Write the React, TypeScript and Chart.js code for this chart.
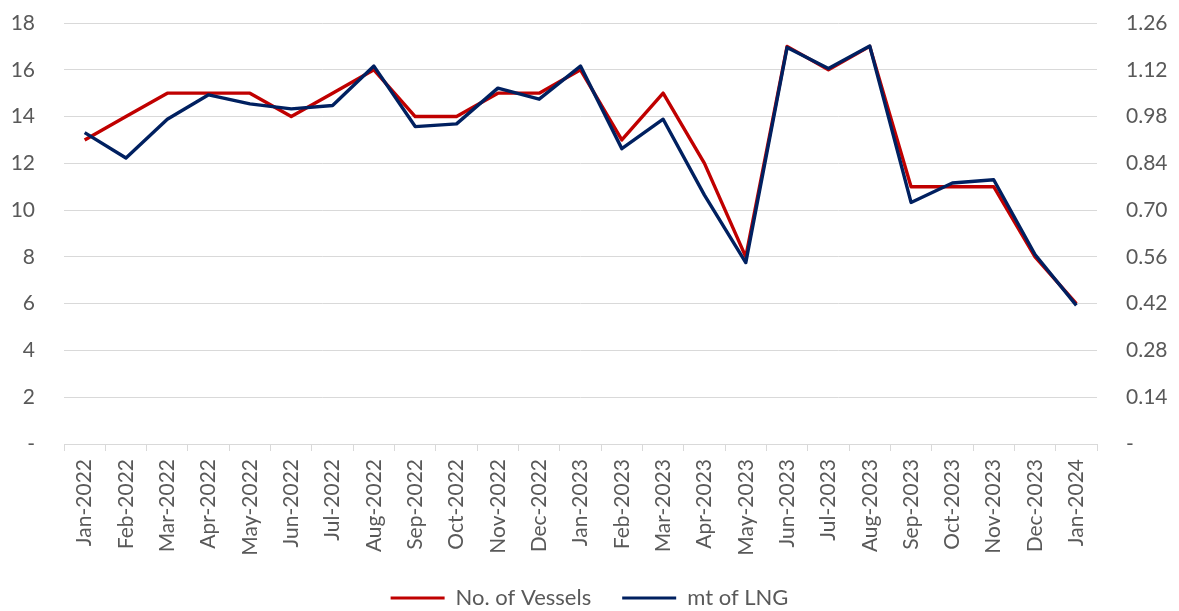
import { useEffect, useRef } from "react";
import { Chart, registerables } from "chart.js";

Chart.register(...registerables);

const CATEGORIES = [
  "Jan-2022", "Feb-2022", "Mar-2022", "Apr-2022", "May-2022", "Jun-2022",
  "Jul-2022", "Aug-2022", "Sep-2022", "Oct-2022", "Nov-2022", "Dec-2022",
  "Jan-2023", "Feb-2023", "Mar-2023", "Apr-2023", "May-2023", "Jun-2023",
  "Jul-2023", "Aug-2023", "Sep-2023", "Oct-2023", "Nov-2023", "Dec-2023",
  "Jan-2024",
];

const VESSELS = [13, 14, 15, 15, 15, 14, 15, 16, 14, 14, 15, 15, 16, 13, 15, 12, 8, 17, 16, 17, 11, 11, 11, 8, 6];

const LNG_MT = [
  0.932, 0.856, 0.972, 1.045, 1.018, 1.003, 1.013, 1.131, 0.95, 0.958, 1.065, 1.032,
  1.131, 0.884, 0.972, 0.745, 0.543, 1.187, 1.124, 1.191, 0.723, 0.781, 0.791, 0.567, 0.415,
];

const LEFT_TICKS = [0, 2, 4, 6, 8, 10, 12, 14, 16, 18];
const RIGHT_TICKS = [0, 0.14, 0.28, 0.42, 0.56, 0.7, 0.84, 0.98, 1.12, 1.26];

const SERIES_NAMES = ["No. of Vessels", "mt of LNG"];

const TEXT_COLOR = "#595959";
const GRID_COLOR = "#D9D9D9";
const RED = "#C00000";
const NAVY = "#002060";
const FONT = { family: "Lato, 'Noto Sans', sans-serif", size: 21 };
const LEGEND_FONT = { family: "Lato, 'Noto Sans', sans-serif", size: 22 };

export default function App() {
  const canvasRef = useRef<HTMLCanvasElement | null>(null);

  useEffect(() => {
    document.body.style.margin = "0";
    const canvas = canvasRef.current;
    if (!canvas) return;
    const chart = new Chart(canvas, {
      type: "line",
      data: {
        labels: CATEGORIES,
        datasets: [
          {
            label: SERIES_NAMES[0],
            data: VESSELS,
            borderColor: RED,
            backgroundColor: RED,
            borderWidth: 3.4,
            pointRadius: 0,
            pointHoverRadius: 0,
            borderJoinStyle: "round",
            tension: 0,
            yAxisID: "y",
            order: 1,
          },
          {
            label: SERIES_NAMES[1],
            data: LNG_MT,
            borderColor: NAVY,
            backgroundColor: NAVY,
            borderWidth: 3.4,
            pointRadius: 0,
            pointHoverRadius: 0,
            borderJoinStyle: "round",
            tension: 0,
            yAxisID: "y1",
            order: 0,
          },
        ],
      },
      options: {
        animation: false,
        responsive: true,
        maintainAspectRatio: false,
        layout: { padding: { top: 23, left: 0, right: 0, bottom: -8 } },
        plugins: {
          tooltip: { enabled: false },
          legend: {
            position: "bottom",
            labels: {
              color: TEXT_COLOR,
              font: LEGEND_FONT,
              boxWidth: 54,
              boxHeight: 3,
              padding: 31,
              sort: (a: any, b: any) => a.datasetIndex - b.datasetIndex,
              generateLabels: (ch: any) => {
                const items = Chart.defaults.plugins.legend.labels.generateLabels(ch);
                return items.map((it: any) => ({ ...it, lineWidth: 0 }));
              },
            },
          },
        },
        scales: {
          x: {
            offset: true,
            grid: {
              display: true,
              offset: true,
              drawOnChartArea: false,
              drawTicks: true,
              tickLength: 7,
              color: GRID_COLOR,
              lineWidth: 1,
            },
            border: { display: true, color: GRID_COLOR, width: 1 },
            ticks: {
              color: TEXT_COLOR,
              font: FONT,
              minRotation: 90,
              maxRotation: 90,
              autoSkip: false,
              padding: 8,
            },
            afterFit: (scale: any) => {
              scale.height = 112;
            },
          },
          y: {
            position: "left",
            min: 0,
            max: 18,
            grid: { color: GRID_COLOR, lineWidth: 1, drawTicks: false },
            border: { display: false },
            ticks: {
              color: TEXT_COLOR,
              font: FONT,
              padding: 29,
              callback: (v: any) => (Number(v) === 0 ? "-" : String(v)),
            },
            afterBuildTicks: (scale: any) => {
              scale.ticks = LEFT_TICKS.map((v) => ({ value: v }));
            },
            afterFit: (scale: any) => {
              scale.width = 64;
              scale.paddingTop = 0;
              scale.paddingBottom = 0;
            },
          },
          y1: {
            position: "right",
            min: 0,
            max: 1.26,
            grid: { drawOnChartArea: false, drawTicks: false },
            border: { display: false },
            ticks: {
              color: TEXT_COLOR,
              font: FONT,
              padding: 29,
              callback: (v: any) => (Number(v) === 0 ? "-" : Number(v).toFixed(2)),
            },
            afterBuildTicks: (scale: any) => {
              scale.ticks = RIGHT_TICKS.map((v) => ({ value: v }));
            },
            afterFit: (scale: any) => {
              scale.width = 82;
              scale.paddingTop = 0;
              scale.paddingBottom = 0;
            },
          },
        },
      },
    });
    return () => chart.destroy();
  }, []);

  return (
    <div style={{ position: "fixed", left: 0, top: 0, width: "100vw", height: "100vh", background: "#fff" }}>
      <canvas ref={canvasRef} />
    </div>
  );
}
